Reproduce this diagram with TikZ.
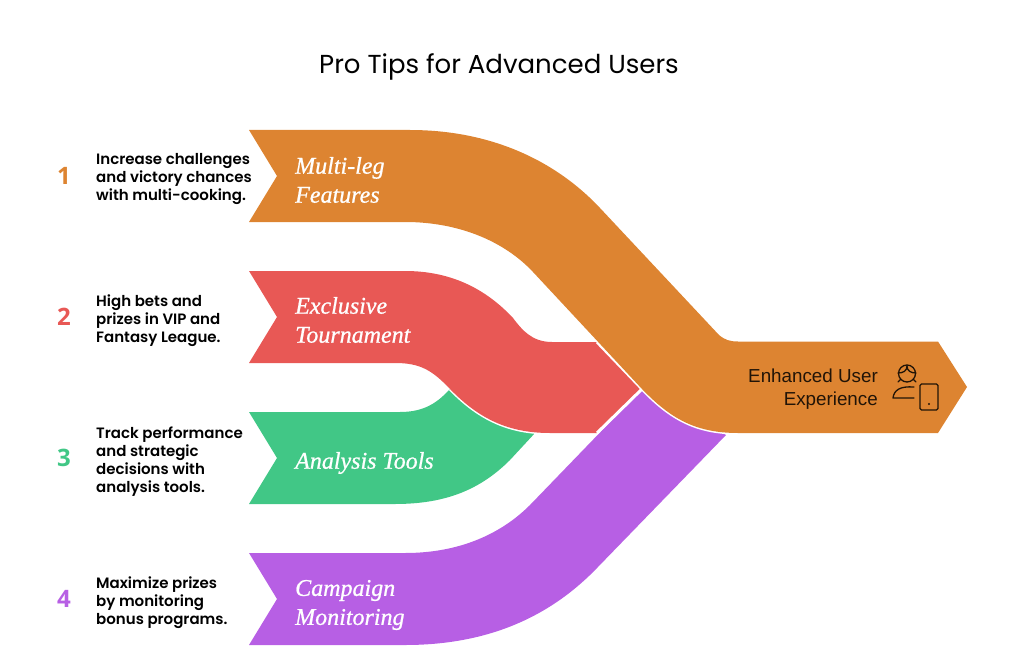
\documentclass[tikz,border=0pt]{standalone}
\usepackage{fontspec}
\setmainfont{Liberation Sans}
\newfontfamily\titlef{Poppins}
\newfontfamily\tipf{Poppins}[UprightFont=* SemiBold]
\newfontfamily\bandf{Liberation Serif}[ItalicFeatures={FakeBold=0.8}]
\newfontfamily\numf{Open Sans}
\definecolor{cO}{HTML}{DD8431}
\definecolor{cR}{HTML}{E85855}
\definecolor{cG}{HTML}{41C786}
\definecolor{cP}{HTML}{B75FE4}
\tikzset{
  gap/.style={draw=white,line width=3pt},
  tiptext/.style={anchor=north west,align=left,font=\tipf\fontsize{15}{18}\selectfont,inner sep=0pt},
  bandtext/.style={anchor=west,align=left,text=white,font=\bandf\itshape\fontsize{24}{29}\selectfont,inner sep=0pt},
  numtext/.style={anchor=center,font=\numf\bfseries\fontsize{24}{24}\selectfont,inner sep=0pt},
  icon/.style={draw=black!85!cO,line width=1.3pt,line cap=round,line join=round}
}
\begin{document}
\begin{tikzpicture}[x=1pt,y=-1pt]
\useasboundingbox (0,0) rectangle (1024,663);
\node[anchor=center,inner sep=0pt,font=\titlef\fontsize{26}{30}\selectfont] (title) at (499,67) {Pro Tips for Advanced Users};
% green
\fill[cG] (249,412) -- (277,458) -- (249,504) -- (395,504)
  .. controls (445,504) and (480,490) .. (510,460) -- (535,433)
  -- (450,389)
  .. controls (438,402) and (425,412) .. (400,412) -- cycle;
% purple
\fill[cP] (249,553) -- (277,599) -- (249,645) -- (405,645)
  .. controls (480,645) and (545,622) .. (597,568) -- (726,435)
  -- (642,389)
  -- (530,505) .. controls (505,530) and (465,553) .. (405,553) -- cycle;
% red
\draw[gap] (450,389) .. controls (480,420) and (510,433) .. (550,433);
\fill[cR] (249,271) -- (277,317) -- (249,363) -- (395,363)
  .. controls (420,363) and (432,370) .. (450,389)
  .. controls (480,420) and (510,433) .. (550,433) -- (597,433)
  -- (642,389) -- (597,342) -- (552,342)
  .. controls (532,342) and (522,330) .. (513,318)
  .. controls (485,288) and (450,271) .. (405,271) -- cycle;
% orange
\draw[gap] (597,433) -- (642,389) -- (597,342);
\draw[gap] (642,389) .. controls (670,418) and (695,433) .. (738,433);
\fill[cO] (249,130) -- (277,176) -- (249,222) -- (405,222)
  .. controls (460,222) and (505,242) .. (533,272)
  -- (642,389)
  .. controls (670,418) and (695,433) .. (738,433)
  -- (938,433) -- (967,387) -- (938,341.5) -- (738,341.5)
  .. controls (730,341.5) and (725,340) .. (719,335)
  -- (600,208) .. controls (555,160) and (490,130) .. (410,130) -- cycle;
% band labels
\node[bandtext] (b1) at (295,180) {Multi-leg\\Features};
\node[bandtext] (b2) at (295,320) {Exclusive\\Tournament};
\node[bandtext] (b3) at (295,463) {Analysis Tools};
\node[bandtext] (b4) at (295,605) {Campaign\\Monitoring};
% numbers
\node[numtext,text=cO] (n1) at (64,176) {1};
\node[numtext,text=cR] (n2) at (64,317) {2};
\node[numtext,text=cG] (n3) at (64,458) {3};
\node[numtext,text=cP] (n4) at (64,599) {4};
% tips
\node[tiptext] (t1) at (96,153.5) {Increase challenges\\and victory chances\\with multi-cooking.};
\node[tiptext] (t2) at (96,294.5) {High bets and\\prizes in VIP and\\Fantasy League.};
\node[tiptext] (t3) at (96,426.5) {Track performance\\and strategic\\decisions with\\analysis tools.};
\node[tiptext] (t4) at (96,576.5) {Maximize prizes\\by monitoring\\bonus programs.};
% end label
\node[anchor=east,align=right,inner sep=0pt,font=\fontsize{18.8}{23}\selectfont,text=black!85!cO] (end) at (878,389.5) {Enhanced User\\Experience};
% icon
\draw[icon] (907,373.5) circle (8.5);
\draw[icon] (898,373) .. controls (903,373) and (907,371) .. (907,366) .. controls (907,371) and (911,373) .. (916,373);
\draw[icon] (898,382) -- (901,379) (916,382) -- (913,379);
\draw[icon] (914,387) .. controls (900,386) and (894,390) .. (893,398) -- (914,398);
\draw[icon,rounded corners=1.5pt] (920,384) rectangle (938,410);
\fill[black!85!cO] (929,404) circle (1.2);
\end{tikzpicture}
\end{document}
